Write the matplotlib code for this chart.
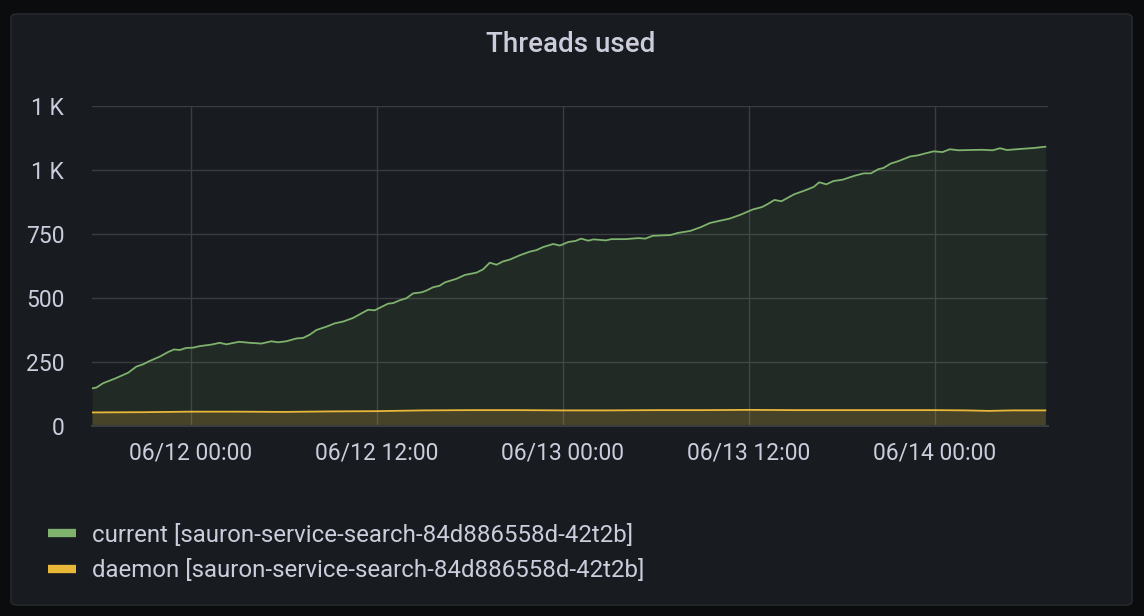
import pandas as pd
import matplotlib
matplotlib.use("Agg")
import matplotlib.pyplot as plt
import matplotlib.dates as mdates
from matplotlib.patches import FancyBboxPatch
from matplotlib.lines import Line2D

# hours since 06/12 00:00 and thread counts
current_hours = [-6.37, -6.09, -5.66, -4.90, -4.04, -3.51, -3.08, -2.65, -2.00, -1.46,
                 -1.08, -0.71, -0.28, 0.15, 0.58, 1.33, 1.87, 2.30, 3.12, 3.81,
                 4.56, 5.20, 5.63, 6.17, 6.82, 7.25, 7.68, 8.11, 8.75, 9.29,
                 9.83, 10.47, 11.01, 11.44, 11.87, 12.30, 12.73, 13.05, 13.48, 13.91,
                 14.34, 14.88, 15.20, 15.63, 16.06, 16.39, 17.14, 17.68, 18.43, 18.86,
                 19.29, 19.72, 20.15, 20.58, 21.23, 21.87, 22.30, 22.73, 23.38, 23.81,
                 24.37, 24.83, 25.18, 25.64, 25.99, 26.79, 27.14, 28.06, 28.87, 29.33,
                 29.80, 30.95, 31.41, 32.22, 32.91, 33.49, 34.07, 34.76, 35.45, 36.26,
                 36.84, 37.19, 37.65, 38.11, 38.92, 39.61, 40.19, 40.54, 41.00, 41.46,
                 42.04, 42.85, 43.42, 43.88, 44.35, 44.69, 45.15, 45.62, 46.42, 46.89,
                 47.46, 47.93, 48.50, 48.96, 49.54, 50.24, 51.04, 51.74, 52.20, 52.66,
                 53.47, 54.39, 55.13]
current_vals = [147, 150, 167, 185, 208, 232, 241, 254, 271, 289,
                299, 297, 305, 306, 312, 318, 325, 319, 329, 325,
                322, 331, 327, 331, 342, 344, 357, 375, 388, 401,
                408, 422, 440, 454, 452, 465, 478, 480, 491, 499,
                518, 522, 529, 542, 548, 561, 575, 590, 599, 612,
                638, 630, 643, 650, 667, 681, 687, 699, 711, 705,
                719, 723, 732, 724, 729, 725, 730, 730, 734, 732,
                743, 746, 754, 762, 777, 793, 801, 810, 825, 846,
                855, 866, 883, 878, 905, 920, 934, 952, 944, 957,
                962, 978, 987, 987, 1003, 1008, 1025, 1034, 1053, 1057,
                1066, 1073, 1070, 1081, 1077, 1078, 1079, 1077, 1085, 1078,
                1082, 1086, 1091]

daemon_hours = [-6.37, -3, 0, 3, 6, 9, 12, 15, 18, 21, 24, 27, 30, 33, 36,
                39, 42, 45, 48, 50, 51.5, 53, 55.13]
daemon_vals = [53, 54, 56, 56, 55, 57, 58, 61, 62, 62, 61, 61, 62, 62, 63,
               62, 62, 62, 62, 61, 59, 61, 61]

series_labels = ["current [sauron-service-search-84d886558d-42t2b]",
                 "daemon [sauron-service-search-84d886558d-42t2b]"]
y_ticks = [0, 250, 500, 750, 1000, 1250]
y_tick_labels = ["0", "250", "500", "750", "1 K", "1 K"]

base = pd.Timestamp("2021-06-12 00:00")
current_t = base + pd.to_timedelta(current_hours, unit="h")
daemon_t = base + pd.to_timedelta(daemon_hours, unit="h")

GREEN = "#7EB26D"
YELLOW = "#EAB839"
TEXT = "#ccccdc"
GRID = "#3b3c40"

plt.rcParams["font.family"] = ["Roboto", "DejaVu Sans"]

fig = plt.figure(figsize=(11.44, 6.16), dpi=100)
fig.patch.set_facecolor("#0b0c0e")

# panel card, kept behind the axes
panel = FancyBboxPatch((11 / 1144, 1 - 605 / 616), 1121 / 1144, 591 / 616,
                       boxstyle="round,pad=0,rounding_size=0.006",
                       transform=fig.transFigure, facecolor="#181b1f",
                       edgecolor="#26282c", linewidth=1.2, zorder=-5)
fig.patches.append(panel)

fig.text(571 / 1144, 1 - 45 / 616, "Threads used", color=TEXT, fontsize=20,
         fontweight="medium", ha="center", va="center")

ax = fig.add_axes([92 / 1144, 1 - 426 / 616, 956 / 1144, 320 / 616])
ax.set_facecolor("none")
ax.set_zorder(2)

ax.fill_between(current_t, current_vals, 0, color=GREEN, alpha=0.1, linewidth=0)
ax.fill_between(daemon_t, daemon_vals, 0, color=YELLOW, alpha=0.18, linewidth=0)
ax.plot(current_t, current_vals, color=GREEN, linewidth=1.3)
ax.plot(daemon_t, daemon_vals, color=YELLOW, linewidth=1.3)

ax.set_ylim(0, 1250)
ax.set_xlim(base + pd.Timedelta(hours=-6.37), base + pd.Timedelta(hours=55.3))
ax.set_yticks(y_ticks)
ax.set_yticklabels(y_tick_labels)

ax.xaxis.set_major_locator(mdates.HourLocator(byhour=[0, 12]))
ax.xaxis.set_major_formatter(mdates.DateFormatter("%m/%d %H:%M"))

ax.grid(True, color=GRID, linewidth=1)
ax.set_axisbelow(True)
for side in ["top", "right", "left"]:
    ax.spines[side].set_visible(False)
ax.spines["bottom"].set_color("#3b3c40")
ax.spines["bottom"].set_linewidth(1.5)
ax.tick_params(axis="both", length=0, colors=TEXT, labelsize=16.5)
ax.tick_params(axis="y", pad=20)
ax.tick_params(axis="x", pad=11.5)

handles = [Line2D([], [], color=GREEN, linewidth=6, solid_capstyle="butt"),
           Line2D([], [], color=YELLOW, linewidth=6, solid_capstyle="butt")]
leg = fig.legend(handles, series_labels, loc="upper left",
                 bbox_to_anchor=(38 / 1144, 1 - 514 / 616), frameon=False,
                 fontsize=17.3, handlelength=1.2, handletextpad=0.65,
                 labelspacing=0.52, borderaxespad=0)
for t in leg.get_texts():
    t.set_color(TEXT)

fig.savefig("out.png", dpi=100, facecolor=fig.get_facecolor())
